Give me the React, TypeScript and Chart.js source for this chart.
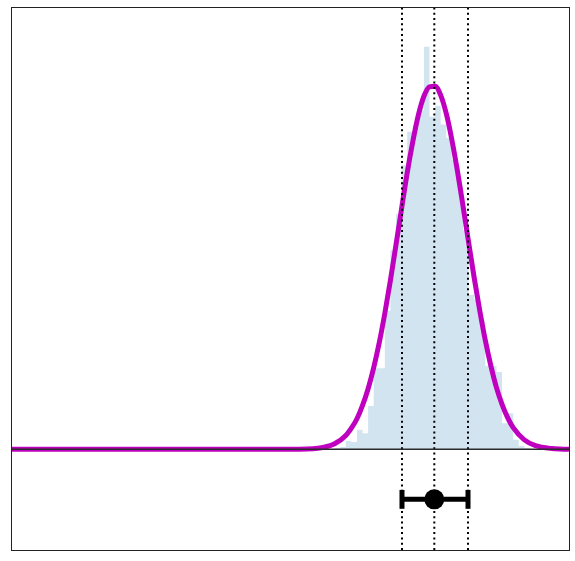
import { useEffect, useRef } from "react";
import { Chart, registerables } from "chart.js";

Chart.register(...registerables);

// Histogram: left edges of bins (density values)
const binLeft = [
  0.58, 0.59, 0.6, 0.61, 0.62, 0.63, 0.64, 0.65, 0.66, 0.67, 0.68, 0.69,
  0.7, 0.71, 0.72, 0.73, 0.74, 0.75, 0.76, 0.77, 0.78, 0.79, 0.8, 0.81,
  0.82, 0.83, 0.84, 0.85, 0.86, 0.87, 0.88, 0.89, 0.9, 0.91, 0.92,
];
const binDensity = [
  0.02, 0.04, 0.15, 0.13, 0.35, 0.29, 0.78, 1.46, 1.46, 2.49, 3.58, 4.23,
  5.11, 5.71, 5.83, 6.1, 7.24, 5.98, 6.18, 5.84, 5.6, 5.21, 4.75, 3.94,
  2.78, 2.7, 2.31, 1.5, 1.5, 1.39, 0.47, 0.65, 0.17, 0.06, 0.02,
];
const binLastRight = 0.93;

// Fitted curve
const curveX = [
  0, 0.4, 0.5, 0.55, 0.58, 0.6, 0.61, 0.62, 0.63, 0.64, 0.65, 0.66, 0.67,
  0.68, 0.69, 0.7, 0.71, 0.72, 0.73, 0.74, 0.75, 0.76, 0.77, 0.78, 0.79, 0.8,
  0.81, 0.82, 0.83, 0.84, 0.85, 0.86, 0.87, 0.88, 0.89, 0.9, 0.92, 0.94,
  0.97, 1.0,
];
const curveY = [
  0, 0, 0.001, 0.02, 0.1, 0.25, 0.38, 0.55, 0.79, 1.09, 1.47, 1.92, 2.45,
  3.04, 3.68, 4.33, 4.97, 5.53, 6.01, 6.35, 6.52, 6.53, 6.37, 6.04, 5.57,
  5.01, 4.38, 3.73, 3.09, 2.5, 1.96, 1.5, 1.11, 0.81, 0.57, 0.39, 0.17,
  0.066, 0.013, 0,
];

// Summary: lower, median, upper
const summaryLow = 0.7007;
const summaryMid = 0.7586;
const summaryHigh = 0.819;
const errorBarY = -0.9;
const capHalfHeight = 0.17;

const xLimits = [0, 1];
const yLimits = [-1.811, 7.955];

const frame = {
  id: "frame",
  afterDraw(chart: any) {
    const { ctx, chartArea } = chart;
    ctx.save();
    ctx.strokeStyle = "#222";
    ctx.lineWidth = 1;
    ctx.strokeRect(
      chartArea.left + 0.5,
      chartArea.top + 0.5,
      chartArea.right - chartArea.left,
      chartArea.bottom - chartArea.top
    );
    ctx.restore();
  },
};

export default function App() {
  const ref = useRef<HTMLCanvasElement>(null);

  useEffect(() => {
    if (!ref.current) return;
    const hist = binLeft.map((x, i) => ({ x, y: binDensity[i] }));
    hist.push({ x: binLastRight, y: 0 });
    const curve = curveX.map((x, i) => ({ x, y: curveY[i] }));
    const vline = (x: number) => [
      { x, y: yLimits[0] },
      { x, y: yLimits[1] },
    ];
    const cap = (x: number) => [
      { x, y: errorBarY - capHalfHeight },
      { x, y: errorBarY + capHalfHeight },
    ];
    const plain = {
      pointRadius: 0,
      pointHoverRadius: 0,
      fill: false,
      tension: 0,
    };
    const chart = new Chart(ref.current, {
      type: "line",
      data: {
        datasets: [
          {
            ...plain,
            data: [
              { x: xLimits[0], y: 0 },
              { x: xLimits[1], y: 0 },
            ],
            borderColor: "#2b2b2b",
            borderWidth: 1.6,
            order: 0,
          },
          {
            type: "scatter",
            data: [{ x: summaryMid, y: errorBarY }],
            pointRadius: 10,
            pointBackgroundColor: "#000",
            pointBorderWidth: 0,
            showLine: false,
            order: 1,
          },
          {
            ...plain,
            data: [
              { x: summaryLow, y: errorBarY },
              { x: summaryHigh, y: errorBarY },
            ],
            borderColor: "#000",
            borderWidth: 5,
            order: 2,
          },
          { ...plain, data: cap(summaryLow), borderColor: "#000", borderWidth: 5, order: 2 },
          { ...plain, data: cap(summaryHigh), borderColor: "#000", borderWidth: 5, order: 2 },
          ...[summaryLow, summaryMid, summaryHigh].map((x) => ({
            ...plain,
            data: vline(x),
            borderColor: "#000",
            borderWidth: 2,
            borderDash: [2, 3.3],
            order: 3,
          })),
          {
            ...plain,
            data: curve,
            borderColor: "#bf00bf",
            borderWidth: 5,
            cubicInterpolationMode: "monotone",
            order: 4,
          },
          {
            ...plain,
            data: hist,
            stepped: "before",
            borderWidth: 0,
            borderColor: "rgba(0,0,0,0)",
            backgroundColor: "rgba(31,119,180,0.2)",
            fill: "origin",
            order: 5,
          },
        ] as any,
      },
      options: {
        animation: false,
        responsive: false,
        events: [],
        layout: { autoPadding: false, padding: { left: 11, top: 7, right: 6, bottom: 11 } },
        plugins: { legend: { display: false }, tooltip: { enabled: false } },
        scales: {
          x: { type: "linear", min: xLimits[0], max: xLimits[1], display: false },
          y: { type: "linear", min: yLimits[0], max: yLimits[1], display: false },
        },
      },
      plugins: [frame],
    });
    return () => chart.destroy();
  }, []);

  return (
    <div style={{ position: "absolute", left: 0, top: 0, width: 575, height: 561 }}>
      <canvas ref={ref} width={575} height={561} />
    </div>
  );
}
